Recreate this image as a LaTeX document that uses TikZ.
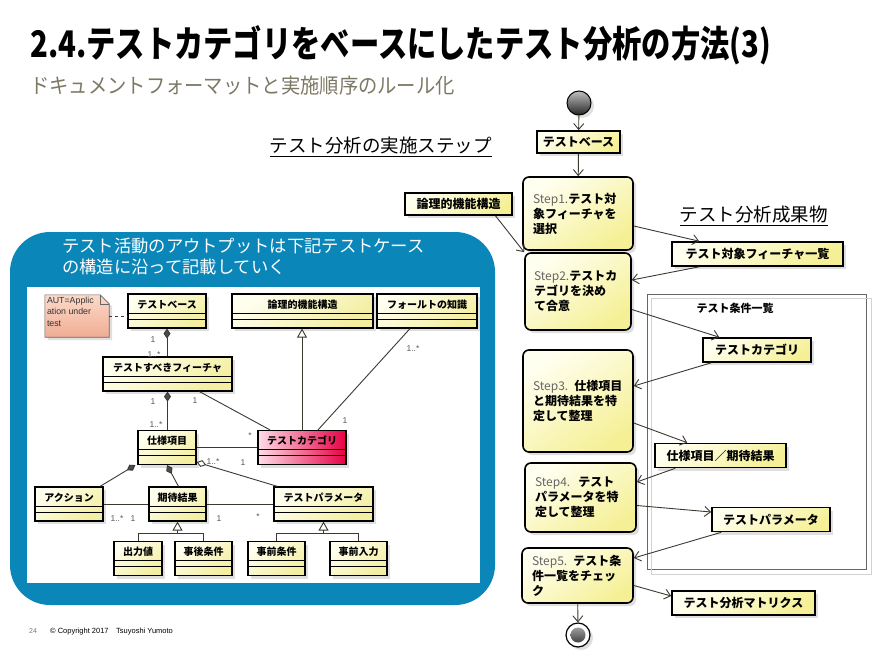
\documentclass[tikz,border=0pt]{standalone}
\usepackage{fontspec}
\setmainfont{Noto Sans CJK JP}
\newfontfamily\arialfont{Liberation Sans}
\usetikzlibrary{arrows.meta,shadows}

\definecolor{panelblue}{RGB}{10,134,185}
\definecolor{subgray}{RGB}{125,120,100}
\definecolor{ylight}{RGB}{255,255,240}
\definecolor{ydark}{RGB}{243,238,160}
\definecolor{ydark2}{RGB}{245,240,150}
\definecolor{pinklight}{RGB}{255,220,232}
\definecolor{pinkdark}{RGB}{230,0,70}
\definecolor{notelight}{RGB}{252,218,200}
\definecolor{notedark}{RGB}{240,172,148}
\definecolor{linegray}{RGB}{60,58,48}

\newcommand{\steptag}[1]{{\mdseries\color{black!60}#1}}

\begin{document}
\begin{tikzpicture}[x=1pt, y=-1pt,
    conn/.style={draw=linegray, line width=0.9pt},
    flow/.style={conn, -{Straight Barb[length=6pt,width=10pt]}},
    compo/.style={conn, {Diamond[length=10pt,width=7pt,fill=black!70]}-},
    aggre/.style={conn, {Diamond[open,length=10pt,width=7pt]}-},
    gener/.style={conn, -{Triangle[open,length=9pt,width=10pt]}},
    boxshadow/.style={drop shadow={opacity=0.25, shadow xshift=3pt, shadow yshift=-3pt}},
    cls/.style={draw=black, line width=1.2pt, top color=ylight, bottom color=ydark, shading angle=35,
        minimum width=#1pt, inner xsep=0pt, inner ysep=2pt, text height=12pt, text depth=18pt,
        font=\fontsize{10}{10}\selectfont\bfseries, boxshadow,
        path picture={\draw[line width=0.8pt]
            ([yshift=15pt]path picture bounding box.south west) -- ([yshift=15pt]path picture bounding box.south east)
            ([yshift=9pt]path picture bounding box.south west) -- ([yshift=9pt]path picture bounding box.south east);}},
    stepnode/.style={draw=black, line width=1.6pt, rounded corners=6pt, top color=ylight, bottom color=ydark2,
        shading angle=35, text width=#1pt, inner xsep=10pt, align=left,
        font=\fontsize{12}{15}\selectfont\bfseries, boxshadow},
    artifact/.style={draw=black, line width=1.6pt, top color=ylight, bottom color=ydark2, shading angle=35,
        minimum width=#1pt, minimum height=24pt, inner sep=0pt, font=\fontsize{12}{12}\selectfont\bfseries, boxshadow},
    mult/.style={inner sep=0pt, text=black!65, font=\arialfont\fontsize{8.5}{8.5}\selectfont},
    heading/.style={font=\fontsize{18.5}{19}\selectfont},
]
    \useasboundingbox (0,0) rectangle (885,661);
    \def\many{1..*}

    % ===== Titles =====
    \node[anchor=base west, inner sep=0pt, font=\fontsize{29.3}{30}\selectfont\bfseries] (title) at (30,57)
        {\scalebox{1}[1.25]{2.4.テストカテゴリをベースにしたテスト分析の方法(3)}};
    \node[anchor=base west, inner sep=0pt, text=subgray, font=\fontsize{19.3}{20}\selectfont] (subtitle) at (30,93)
        {\scalebox{1}[1.08]{ドキュメントフォーマットと実施順序のルール化}};

    % ===== Blue panel =====
    \fill[panelblue, rounded corners=40pt] (10,232) rectangle (495,605);
    \fill[white] (27,287) rectangle (480,583);
    \node[anchor=north west, inner sep=0pt, align=left, text=white, font=\fontsize{17.3}{21}\selectfont] (paneltitle) at (62,238)
        {テスト活動のアウトプットは下記テストケース\\の構造に沿って記載していく};

    % ===== Classes =====
    \foreach \nm/\x/\y/\w/\txt in {tb/167/311/78/テストベース, feat/167.5/374/129/テストすべきフィーチャ,
        lfs/302.5/311/141/論理的機能構造, fk/427/311/100/フォールトの知識, spec/167/447.5/58/仕様項目,
        act/69/504/68/アクション, exp/177.5/504/57/期待結果, par/323.5/504/99/テストパラメータ,
        out/138/558.5/48/出力値, post/203.5/558.5/57/事後条件, pre/276.5/558.5/57/事前条件,
        pin/358.5/558.5/57/事前入力}
        \node[cls=\w] (\nm) at (\x,\y) {\txt};
    \node[cls=88, left color=pinklight, right color=pinkdark] (cat) at (302,447.5) {テストカテゴリ};

    % note
    \node[minimum width=64pt, minimum height=42pt, inner sep=0pt] (note) at (77,316) {};
    \draw[draw=black!60, line width=0.6pt, top color=notelight, bottom color=notedark, boxshadow]
        (note.north west) -- ([xshift=-9pt]note.north east) -- ([yshift=-9pt]note.north east)
        -- (note.south east) -- (note.south west) -- cycle;
    \draw[black!60, line width=0.6pt] ([xshift=-9pt]note.north east) -- ([xshift=-9pt,yshift=-9pt]note.north east)
        -- ([yshift=-9pt]note.north east);
    \node[anchor=north west, align=left, inner sep=2pt, text=black!80, font=\arialfont\fontsize{8.8}{11.5}\selectfont]
        (notetext) at (note.north west) {AUT=Applic\\ation under\\test};

    % ===== Class links =====
    \draw[conn, dashed] (note.east) -- (note.east -| tb.west);
    \draw[compo] (tb.south) -- (tb.south |- feat.north);
    \draw[compo] (feat.south) -- (feat.south |- spec.north);
    \draw[conn] ([xshift=32pt]feat.south) -- ([xshift=-32pt]cat.north);
    \draw[conn] (spec.east) -- (cat.west);
    \draw[gener] (cat.north) -- (cat.north |- lfs.south);
    \draw[conn] ([xshift=16pt]cat.north) -- ([xshift=-17pt]fk.south);
    \draw[compo] ([xshift=-2pt]spec.south west) -- ([xshift=31pt]act.north);
    \draw[compo] (spec.south) -- ([xshift=1pt]exp.north);
    \draw[aggre] ([yshift=3pt]spec.south east) -- ([xshift=-46pt]par.north);
    \draw[conn] (act.east) -- (exp.west);
    \draw[conn] (exp.east) -- (par.west);
    \coordinate (gexp) at ([yshift=-12pt]exp.south);
    \coordinate (gpar) at ([yshift=-12pt]par.south);
    \draw[conn] (out.north) |- (gexp) -| (post.north);
    \draw[gener] (gexp) -- (exp.south);
    \draw[conn] (pre.north) |- (gpar) -| (pin.north);
    \draw[gener] (gpar) -- (par.south);

    % multiplicities
    \foreach \nm/\x/\y/\txt in {m1/153/340/1, m2/154/355/\many, m3/153/402/1, m4/156/425/\many,
        m5/195/401/1, m6/250/436/*, m7/345/421/1, m8/413/349/\many, m9/213/462/\many,
        m10/243/463/1, m11/117/519/\many, m12/133/519/1, m13/219/519/1, m14/258/517/*}
        \node[mult] (\nm) at (\x,\y) {\txt};

    % ===== Activity diagram =====
    \node[heading] (stepslbl) at (380.5,147) {\underline{テスト分析の実施ステップ}};
    \node[heading] (outlbl) at (753.5,216) {\underline{テスト分析成果物}};

    \node[circle, minimum size=24pt, inner sep=0pt, draw=black, line width=1pt,
        top color=gray!50, bottom color=black!85, boxshadow] (init) at (579,103) {};
    \node[artifact=83, minimum height=22pt] (base) at (578.5,142) {テストベース};
    \node[artifact=107, minimum height=22pt] (lfs2) at (458.5,204) {論理的機能構造};

    \node[stepnode=90, minimum height=73pt] (s1) at (578,213.5) {\steptag{Step1.}テスト対\\象フィーチャを\\選択};
    \node[stepnode=88, inner xsep=9pt, minimum height=77pt] (s2) at (578,291.5) {\steptag{Step2.}テストカ\\テゴリを決め\\て合意};
    \node[stepnode=90, minimum height=102pt] (s3) at (578,401) {\steptag{Step3. }仕様項目\\と期待結果を特\\定して整理};
    \node[stepnode=91, minimum height=69pt] (s4) at (580.5,497.5) {\steptag{Step4.\ \ }テスト\\パラメータを特\\定して整理};
    \node[stepnode=91, minimum height=55pt] (s5) at (577.5,575.5) {\steptag{Step5. }テスト条\\件一覧をチェッ\\ク};

    \node[circle, minimum size=24pt, inner sep=0pt, draw=black, line width=1.2pt, fill=white, boxshadow,
        path picture={\shade[top color=gray!55, bottom color=black!85] (path picture bounding box.center) circle (7.5pt);}]
        (fin) at (578,635) {};

    % frame of the test condition list
    \node[draw=gray!80!black, line width=0.7pt, fill=white, minimum width=219pt, minimum height=275pt, inner sep=0pt]
        (frame) at (756.5,431.5) {};
    \draw[gray!35, line width=0.7pt] ([shift={(5pt,-5pt)}]frame.north west) rectangle ([shift={(5pt,-5pt)}]frame.south east);
    \node[font=\fontsize{11}{11}\selectfont\bfseries] (frametitle) at (735,308) {テスト条件一覧};

    \node[artifact=171] (o1) at (757.5,254) {テスト対象フィーチャ一覧};
    \node[artifact=108] (o2) at (757,350) {テストカテゴリ};
    \node[artifact=131] (o3) at (720.5,455.5) {仕様項目／期待結果};
    \node[artifact=118] (o4) at (771,519.5) {テストパラメータ};
    \node[artifact=143] (o5) at (743.5,603) {テスト分析マトリクス};

    % ===== Flows =====
    \draw[flow] (init) -- (base);
    \draw[flow] (base) -- (s1);
    \draw[flow] ([xshift=37pt]lfs2.south) -- (s2.north west);
    \draw[flow] ([yshift=-12.5pt]s1.east) -- ([xshift=28pt]o1.north west);
    \draw[flow] ([xshift=28pt]o1.south west) -- ([yshift=11.5pt]s2.east);
    \draw[flow] ([yshift=-18pt]s2.east) -- ([xshift=17pt]o2.north west);
    \draw[flow] ([xshift=9pt]o2.south west) -- ([yshift=15pt]s3.east);
    \draw[flow] ([yshift=-22pt]s3.east) -- ([xshift=33pt]o3.north west);
    \draw[flow] ([xshift=21pt]o3.south west) -- ([yshift=15.5pt]s4.east);
    \draw[flow] ([yshift=-8pt]s4.east) -- ([yshift=7.5pt]o4.west);
    \draw[flow] ([xshift=10pt]o4.south west) -- ([yshift=17.5pt]s5.east);
    \draw[flow] ([yshift=-10pt]s5.east) -- ([yshift=7pt]o5.west);
    \draw[flow] (s5) -- (fin);

    % ===== Footer =====
    \node[anchor=base west, inner sep=0pt, text=subgray, font=\arialfont\fontsize{7}{7}\selectfont] (pageno) at (29,633) {24};
    \node[anchor=base west, inner sep=0pt, font=\arialfont\fontsize{7.5}{8}\selectfont] (copyright) at (50,633)
        {© Copyright 2017\quad Tsuyoshi Yumoto};
\end{tikzpicture}
\end{document}
